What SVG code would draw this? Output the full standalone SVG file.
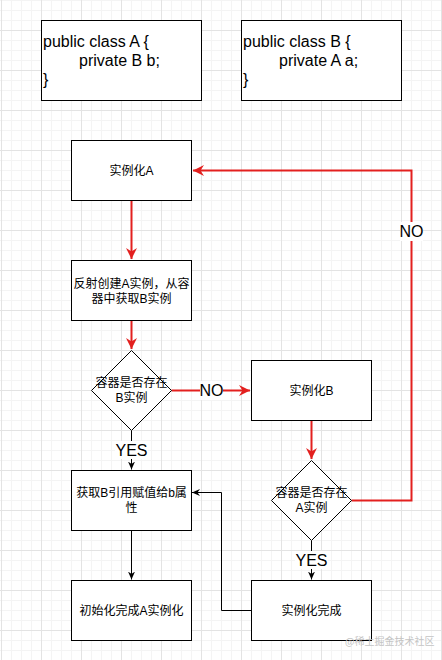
<svg xmlns="http://www.w3.org/2000/svg" width="442" height="660" viewBox="0 0 442 660">
  <style>
    .grid { stroke: #e3e3e3; stroke-width: 1; }
    .minor { stroke: #f4f4f4; stroke-width: 1; }
    .box { fill: #ffffff; stroke: #000000; stroke-width: 1; }
    .code { font-family: "Liberation Sans", Arial, sans-serif; font-size: 16px; fill: #000000; }
    .cn { font-family: "Liberation Sans", "Noto Sans CJK SC", sans-serif; font-size: 12px; fill: #000000; text-anchor: middle; }
    .lbl { font-family: "Liberation Sans", Arial, sans-serif; font-size: 16px; fill: #000000; text-anchor: middle; }
    .red { fill: none; stroke: #e3201f; stroke-width: 2; }
    .blk { fill: none; stroke: #000000; stroke-width: 1; }
    .wm { font-family: "Noto Sans CJK SC", sans-serif; font-size: 10px; fill: #c4c4c4; }
  </style>
  <defs>
    <marker id="arrRed" markerUnits="userSpaceOnUse" markerWidth="12" markerHeight="12" refX="11" refY="5.5" orient="auto">
      <path d="M0,0 L11,5.5 L0,11 L3.5,5.5 Z" fill="#e3201f"/>
    </marker>
    <marker id="arrBlk" markerUnits="userSpaceOnUse" markerWidth="10" markerHeight="10" refX="8" refY="3.5" orient="auto">
      <path d="M0,0 L8,3.5 L0,7 L2.5,3.5 Z" fill="#000000"/>
    </marker>
    <pattern id="minorGrid" x="1" y="0" width="10" height="10" patternUnits="userSpaceOnUse">
      <path d="M0.5,0V10 M0,0.5H10" class="minor" fill="none"/>
    </pattern>
  </defs>
  <rect width="442" height="660" fill="#ffffff"/>
  <rect width="442" height="660" fill="url(#minorGrid)"/>
  <g id="grid" class="grid">
    <path d="M1.5,0V660 M41.5,0V660 M81.5,0V660 M121.5,0V660 M161.5,0V660 M201.5,0V660 M241.5,0V660 M281.5,0V660 M321.5,0V660 M361.5,0V660 M401.5,0V660 M441.5,0V660"/>
    <path d="M0,30.5H442 M0,70.5H442 M0,110.5H442 M0,150.5H442 M0,190.5H442 M0,230.5H442 M0,270.5H442 M0,310.5H442 M0,350.5H442 M0,390.5H442 M0,430.5H442 M0,470.5H442 M0,510.5H442 M0,550.5H442 M0,590.5H442 M0,630.5H442"/>
  </g>

  <g id="classA">
    <rect class="box" x="41.5" y="20.5" width="160" height="80"/>
    <text class="code" x="43" y="47">public class A {</text>
    <text class="code" x="79" y="66">private B b;</text>
    <text class="code" x="43" y="85">}</text>
  </g>
  <g id="classB">
    <rect class="box" x="241.5" y="20.5" width="160" height="80"/>
    <text class="code" x="243" y="47">public class B {</text>
    <text class="code" x="279" y="66">private A a;</text>
    <text class="code" x="243" y="85">}</text>
  </g>

  <g id="connectors">
    <path class="red" d="M131.5,200.5 V259" marker-end="url(#arrRed)"/>
    <path class="red" d="M131.5,320.5 V349" marker-end="url(#arrRed)"/>
    <path class="red" d="M171.5,390.5 H250" marker-end="url(#arrRed)"/>
    <path class="red" d="M311.5,420.5 V459" marker-end="url(#arrRed)"/>
    <path class="red" d="M351.5,500.5 H411.5 V170.5 H193" marker-end="url(#arrRed)"/>
    <path class="blk" d="M131.5,430.5 V469.5" marker-end="url(#arrBlk)"/>
    <path class="blk" d="M131.5,530.5 V579.5" marker-end="url(#arrBlk)"/>
    <path class="blk" d="M311.5,540.5 V579.5" marker-end="url(#arrBlk)"/>
    <path class="blk" d="M251.5,610.5 H221.5 V492.5 H192" marker-end="url(#arrBlk)"/>
    <rect x="200" y="381" width="23" height="19" fill="#ffffff"/>
    <text class="lbl" x="211.5" y="396">NO</text>
    <rect x="400" y="222" width="23" height="19" fill="#ffffff"/>
    <text class="lbl" x="411.5" y="237">NO</text>
    <rect x="115" y="441" width="33" height="18" fill="#ffffff"/>
    <text class="lbl" x="131.5" y="456">YES</text>
    <rect x="295" y="551" width="33" height="18" fill="#ffffff"/>
    <text class="lbl" x="311.5" y="566">YES</text>
  </g>

  <g id="instA">
    <rect class="box" x="71.5" y="140.5" width="120" height="60"/>
    <text class="cn" x="131.5" y="175">实例化A</text>
  </g>
  <g id="reflectA">
    <rect class="box" x="71.5" y="260.5" width="120" height="60"/>
    <text class="cn" x="131.5" y="288">反射创建A实例，从容</text>
    <text class="cn" x="131.5" y="303">器中获取B实例</text>
  </g>
  <g id="checkB">
    <path class="box" d="M131.5,350.5 L171.5,390.5 L131.5,430.5 L91.5,390.5 Z"/>
    <text class="cn" x="131.5" y="387">容器是否存在</text>
    <text class="cn" x="131.5" y="402">B实例</text>
  </g>
  <g id="instB">
    <rect class="box" x="251.5" y="360.5" width="120" height="60"/>
    <text class="cn" x="311.5" y="395">实例化B</text>
  </g>
  <g id="checkA">
    <path class="box" d="M311.5,460.5 L351.5,500.5 L311.5,540.5 L271.5,500.5 Z"/>
    <text class="cn" x="311.5" y="497">容器是否存在</text>
    <text class="cn" x="311.5" y="512">A实例</text>
  </g>
  <g id="assignB">
    <rect class="box" x="71.5" y="470.5" width="120" height="60"/>
    <text class="cn" x="131.5" y="497">获取B引用赋值给b属</text>
    <text class="cn" x="131.5" y="512">性</text>
  </g>
  <g id="initA">
    <rect class="box" x="71.5" y="580.5" width="120" height="60"/>
    <text class="cn" x="131.5" y="615">初始化完成A实例化</text>
  </g>
  <g id="doneB">
    <rect class="box" x="251.5" y="580.5" width="120" height="60"/>
    <text class="cn" x="311.5" y="615">实例化完成</text>
  </g>

  <text class="wm" x="345" y="645">@稀土掘金技术社区</text>
</svg>
